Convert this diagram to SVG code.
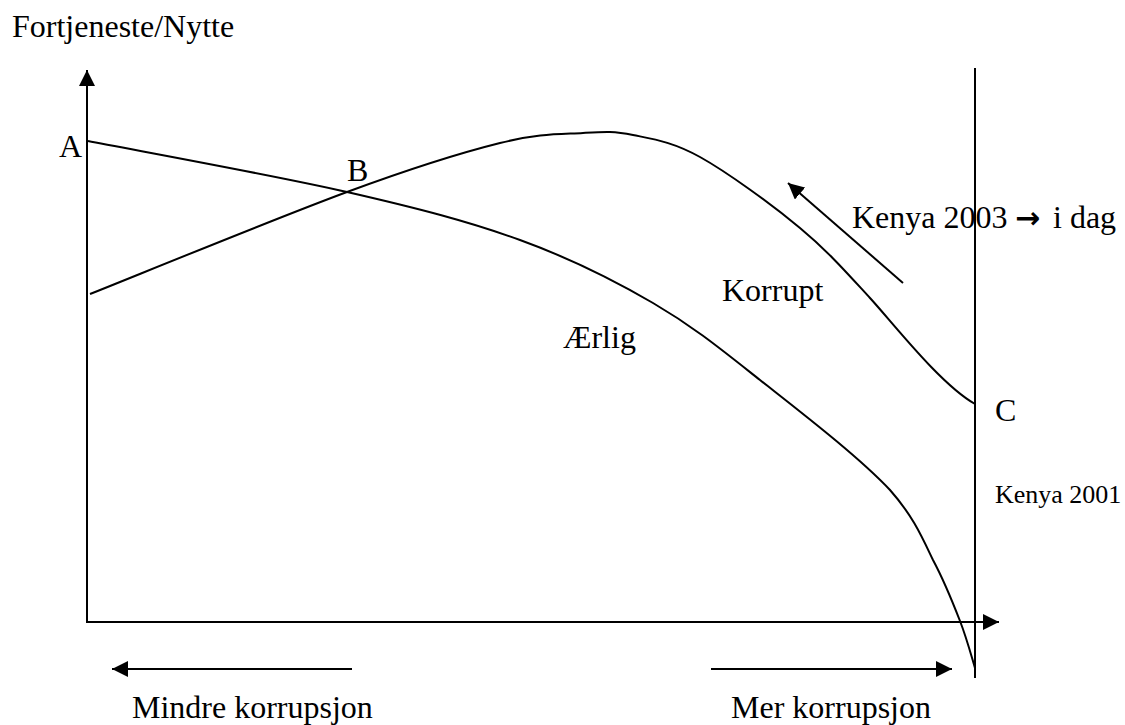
<svg xmlns="http://www.w3.org/2000/svg" width="1125" height="725" viewBox="0 0 1125 725">
<style>
text{font-family:"Liberation Serif","Times New Roman",serif;font-size:32px;fill:#000}
.sm{font-size:26px}
.ln{fill:none;stroke:#000;stroke-width:2}
</style>
<defs>
<marker id="ah" markerUnits="userSpaceOnUse" markerWidth="18" markerHeight="16" refX="16" refY="8" orient="auto"><path d="M0,0 L16,8 L0,16 z" fill="#000"/></marker>
</defs>
<rect width="1125" height="725" fill="#fff"/>
<g id="connectors">
<line class="ln" x1="87" y1="623" x2="87" y2="70" marker-end="url(#ah)"/>
<line class="ln" x1="86" y1="622" x2="999" y2="622" marker-end="url(#ah)"/>
<line class="ln" x1="975" y1="68" x2="975" y2="678"/>
<line class="ln" x1="352" y1="669" x2="112" y2="669" marker-end="url(#ah)"/>
<line class="ln" x1="711" y1="669" x2="952" y2="669" marker-end="url(#ah)"/>
<line class="ln" x1="903" y1="283" x2="788" y2="183" marker-end="url(#ah)"/>
</g>
<g id="aerlig-curve">
<path class="ln" d="M88,141 C131,149.5 275,175.5 347,192 C419,208.5 469,221.5 520,240 C571,258.5 613,279.7 653,303 C693,326.3 720.5,348.8 760,380 C799.5,411.2 858,456 890,490 C913,516 922,537 933,560 C944.7,581.8 953,603 960,621 C967,639 972.5,660 975,668"/>
</g>
<g id="korrupt-curve">
<path class="ln" d="M90,294 C132.8,277 278.7,217.2 347,192 C415.3,166.8 460.7,152.8 500,143 C539.3,133.2 560.8,134.3 583,133 C605.2,131.7 613.5,131 633,135 C652.5,139 672.2,141.5 700,157 C727.8,172.5 771.7,204.5 800,228 C828.3,251.5 846.7,272.7 870,298 C893,323 940,384 975,404"/>
</g>
<g id="labels">
<text x="12" y="37">Fortjeneste/Nytte</text>
<text x="59" y="157">A</text>
<text x="347" y="181">B</text>
<text x="995" y="421">C</text>
<text x="563" y="348">Ærlig</text>
<text x="722" y="301">Korrupt</text>
<text x="852" y="228">Kenya 2003</text>
<text x="1015" y="228" style="font-family:'DejaVu Sans',sans-serif;font-weight:bold;font-size:30px">→</text>
<text x="1053" y="228">i dag</text>
<text class="sm" x="995" y="503">Kenya 2001</text>
<text x="132" y="718">Mindre korrupsjon</text>
<text x="731" y="718">Mer korrupsjon</text>
</g>
</svg>
